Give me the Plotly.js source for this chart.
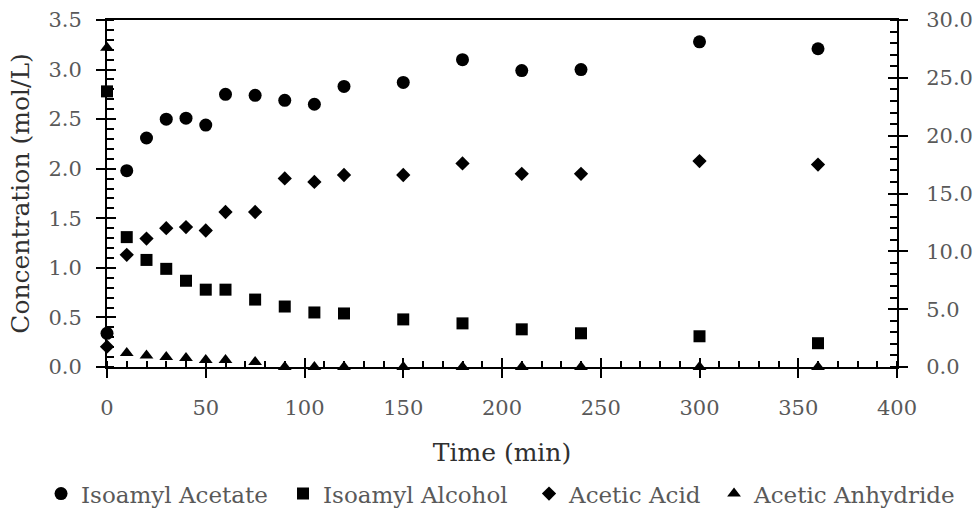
<!DOCTYPE html>
<html>
<head>
<meta charset="utf-8">
<script src="https://cdn.plot.ly/plotly-3.0.1.min.js"></script>
<style>
  html, body { margin: 0; padding: 0; background: #fff; }
  #chart { width: 978px; height: 514px; }
</style>
</head>
<body>
<div id="chart"></div>
<script>
// Sampling times (min)
const timeMin = [0, 10, 20, 30, 40, 50, 60, 75, 90, 105, 120, 150, 180, 210, 240, 300, 360];

// Concentrations (mol/L), left axis
const isoamylAcetate = [0.34, 1.98, 2.31, 2.50, 2.51, 2.44, 2.75, 2.74, 2.69, 2.65, 2.83, 2.87, 3.10, 2.99, 3.00, 3.28, 3.21];
const isoamylAlcohol = [2.78, 1.31, 1.08, 0.99, 0.87, 0.78, 0.78, 0.68, 0.61, 0.55, 0.54, 0.48, 0.44, 0.38, 0.34, 0.31, 0.24];
const aceticAnhydride = [3.22, 0.14, 0.115, 0.10, 0.09, 0.07, 0.07, 0.05, 0.0, 0.0, 0.0, 0.0, 0.0, 0.0, 0.0, 0.0, 0.0];

// Acetic acid (mol/L), right axis
const aceticAcid = [1.76, 9.7, 11.1, 12.0, 12.1, 11.8, 13.4, 13.4, 16.3, 16.0, 16.6, 16.6, 17.6, 16.7, 16.7, 17.8, 17.5];

// Axis ranges
const xRange = [0, 400];
const yLeftRange = [0, 3.5];
const yRightRange = [0, 30];

const FONT = 'DejaVu Serif, serif';
const TICK_GRAY = '#595959';
const INK = '#000000';

const traces = [
  {
    x: timeMin, y: isoamylAcetate, name: 'Isoamyl Acetate', type: 'scatter', mode: 'markers', cliponaxis: false,
    legend: 'legend', marker: { symbol: 'circle', size: 13, color: INK }
  },
  {
    x: timeMin, y: isoamylAlcohol, name: 'Isoamyl Alcohol', type: 'scatter', mode: 'markers', cliponaxis: false,
    legend: 'legend2', marker: { symbol: 'square', size: 12, color: INK }
  },
  {
    x: timeMin, y: aceticAcid, name: 'Acetic Acid', type: 'scatter', mode: 'markers', yaxis: 'y2', cliponaxis: false,
    legend: 'legend3', marker: { symbol: 'diamond', size: 11, color: INK }
  },
  {
    x: timeMin, y: aceticAnhydride, name: 'Acetic Anhydride', type: 'scatter', mode: 'markers', cliponaxis: false,
    legend: 'legend4', marker: { symbol: 'triangle-up', size: 12, color: INK }
  },
  // invisible carriers for the inward half of the crossing major ticks
  { x: xRange, y: yLeftRange, xaxis: 'x2', yaxis: 'y3', mode: 'markers', marker: { opacity: 0 }, showlegend: false, hoverinfo: 'skip' },
  { x: xRange, y: yRightRange, xaxis: 'x2', yaxis: 'y4', mode: 'markers', marker: { opacity: 0 }, showlegend: false, hoverinfo: 'skip' }
];

const common = { showgrid: false, zeroline: false, linecolor: INK, linewidth: 2, tickcolor: INK, tickwidth: 2 };

// one legend box per series, laid out in a row under the x-axis title
function legendAt(x) {
  return {
    orientation: 'h', x: x, xanchor: 'left', y: -0.365, yanchor: 'middle',
    font: { family: FONT, size: 23, color: TICK_GRAY },
    itemwidth: 30, bgcolor: 'rgba(0,0,0,0)'
  };
}

const layout = {
  width: 978, height: 514,
  margin: { l: 107, r: 81, t: 20, b: 147, autoexpand: false },
  paper_bgcolor: '#fff', plot_bgcolor: '#fff',
  font: { family: FONT, color: TICK_GRAY, size: 21 },
  showlegend: true,
  legend: legendAt(-0.0835),
  legend2: legendAt(0.2228),
  legend3: legendAt(0.5342),
  legend4: legendAt(0.7684),
  xaxis: Object.assign({}, common, {
    range: xRange, dtick: 50, tick0: 0, ticks: 'outside', ticklen: 9,
    showline: true, mirror: true, ticklabelstandoff: 12,
    minor: { dtick: 10, ticks: 'inside', ticklen: 6, tickcolor: INK, tickwidth: 2 },
    tickfont: { family: FONT, size: 21, color: TICK_GRAY },
    title: { text: 'Time (min)', font: { family: FONT, size: 25, color: '#303030' }, standoff: 24 }
  }),
  xaxis2: Object.assign({}, common, {
    range: xRange, overlaying: 'x', anchor: 'y3', dtick: 50, tick0: 0, ticks: 'inside', ticklen: 9,
    showline: false, showticklabels: false
  }),
  yaxis: Object.assign({}, common, {
    range: yLeftRange, dtick: 0.5, tick0: 0, tickformat: '.1f', ticks: 'outside', ticklen: 9,
    showline: true, ticklabelstandoff: 10,
    minor: { dtick: 0.1, ticks: 'inside', ticklen: 7, tickcolor: INK, tickwidth: 2 },
    tickfont: { family: FONT, size: 21, color: TICK_GRAY },
    title: { text: 'Concentration (mol/L)', font: { family: FONT, size: 25, color: '#303030' }, standoff: 12 }
  }),
  yaxis2: Object.assign({}, common, {
    range: yRightRange, dtick: 5, tick0: 0, tickformat: '.1f', ticks: 'outside', ticklen: 9,
    overlaying: 'y', side: 'right', showline: true, ticklabelstandoff: 14,
    minor: { dtick: 1, ticks: 'inside', ticklen: 7, tickcolor: INK, tickwidth: 2 },
    tickfont: { family: FONT, size: 21, color: TICK_GRAY }
  }),
  yaxis3: Object.assign({}, common, {
    range: yLeftRange, overlaying: 'y', anchor: 'x2', side: 'left', dtick: 0.5, tick0: 0,
    ticks: 'inside', ticklen: 9, showline: false, showticklabels: false
  }),
  yaxis4: Object.assign({}, common, {
    range: yRightRange, overlaying: 'y', anchor: 'x2', side: 'right', dtick: 5, tick0: 0,
    ticks: 'inside', ticklen: 9, showline: false, showticklabels: false
  })
};

Plotly.newPlot('chart', traces, layout, { staticPlot: true, displayModeBar: false });
</script>
</body>
</html>
